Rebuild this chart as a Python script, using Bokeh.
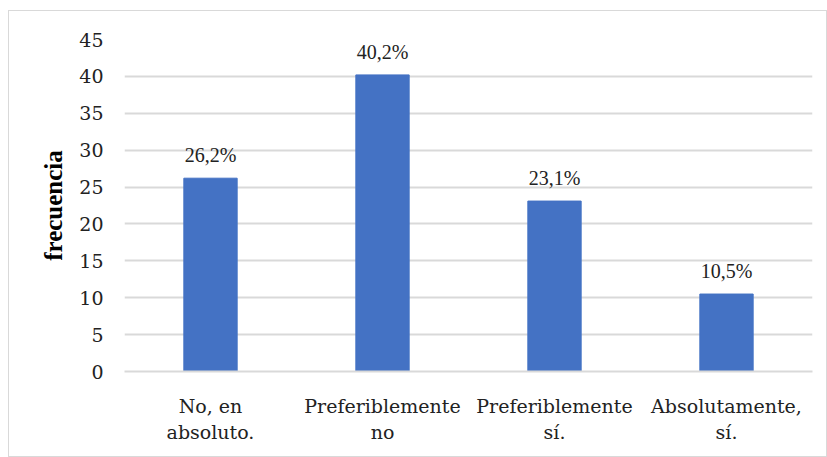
from bokeh.plotting import figure
from bokeh.models import ColumnDataSource, LabelSet, FactorRange, Range1d, FixedTicker
from bokeh.embed import file_html
from bokeh.resources import INLINE

categories = ["No, en\nabsoluto.", "Preferiblemente\nno", "Preferiblemente\nsí.", "Absolutamente,\nsí."]
values = [26.2, 40.2, 23.1, 10.5]
labels = ["26,2%", "40,2%", "23,1%", "10,5%"]
y_ticks = [0, 5, 10, 15, 20, 25, 30, 35, 40, 45]

src = ColumnDataSource(dict(cat=categories, val=values, lab=labels))

FONT = "Liberation Serif"
TICK_FONT = "DejaVu Serif"
TXT = "#222222"

p = figure(x_range=FactorRange(*categories), y_range=Range1d(0, 45),
           width=819, height=447, output_backend="svg", toolbar_location=None,
           min_border_left=115, min_border_right=16, min_border_top=28, min_border_bottom=87)
p.margin = (10, 0, 0, 8)
p.styles = {"border": "1px solid #d9d9d9"}
p.x_range.range_padding = 0
p.outline_line_color = None
p.background_fill_color = "white"
p.border_fill_color = "white"

p.vbar(x="cat", top="val", width=0.31, source=src, color="#4472C4")

p.add_layout(LabelSet(x="cat", y="val", text="lab", source=src, text_align="center",
                      text_baseline="bottom", y_offset=12, text_font=FONT,
                      text_font_size="20px", text_color=TXT))

p.yaxis.ticker = FixedTicker(ticks=y_ticks)
p.yaxis.axis_line_color = None
p.yaxis.major_tick_line_color = None
p.yaxis.minor_tick_line_color = None
p.yaxis.major_label_text_font = TICK_FONT
p.yaxis.major_label_text_font_size = "19px"
p.yaxis.major_label_text_color = TXT
p.yaxis.major_label_standoff = 15
p.yaxis.axis_label = "frecuencia"
p.yaxis.axis_label_text_font = FONT
p.yaxis.axis_label_text_font_style = "bold"
p.yaxis.axis_label_text_font_size = "25px"
p.yaxis.axis_label_text_color = "#000000"
p.yaxis.axis_label_standoff = 9

p.xaxis.axis_line_color = "#d9d9d9"
p.xaxis.axis_line_width = 2
p.xaxis.major_tick_line_color = None
p.xaxis.minor_tick_line_color = None
p.xaxis.major_label_text_font = TICK_FONT
p.xaxis.major_label_text_font_size = "19px"
p.xaxis.major_label_text_color = TXT
p.xaxis.major_label_standoff = 17

p.xgrid.grid_line_color = None
p.ygrid.grid_line_color = "#d9d9d9"
p.ygrid.grid_line_width = 2

open("out.html", "w").write(file_html(p, INLINE))
